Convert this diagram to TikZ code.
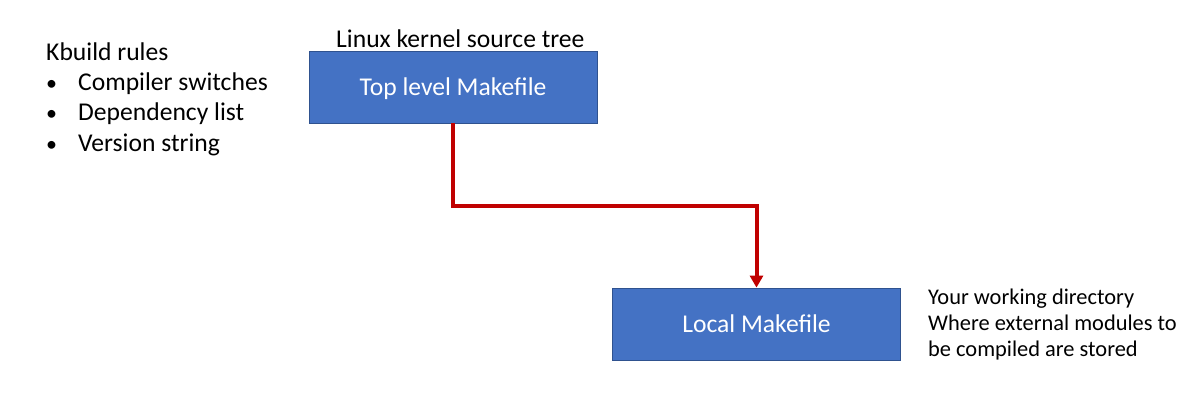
\documentclass[tikz,border=0pt]{standalone}
\usepackage{fontspec}
\setmainfont{Carlito}
\usetikzlibrary{arrows.meta}
\definecolor{boxfill}{HTML}{4472C4}
\definecolor{boxline}{HTML}{2F528F}
\definecolor{arrowred}{HTML}{C00000}
\begin{document}
\begin{tikzpicture}[x=1pt,y=-1pt,
  mbox/.style={draw=boxline,fill=boxfill,line width=0.8pt,minimum width=288pt,minimum height=72pt,inner sep=0pt,text depth=0pt,text=white,font=\fontsize{25.6}{30}\selectfont},
  lbl/.style={anchor=base west,inner sep=0pt,font=\fontsize{25.6}{30}\selectfont},
  rlbl/.style={anchor=base west,inner sep=0pt,font=\fontsize{22.4}{26}\selectfont},
  bul/.style={anchor=base west,inner sep=0pt,font=\fontsize{22}{26}\selectfont},
  conn/.style={draw=arrowred,line width=4pt,-{Triangle[length=12pt,width=13pt]}}]
\useasboundingbox (0,0) rectangle (1197,404);
\node[mbox] (top) at (453,87) {Top level Makefile};
\node[mbox] (loc) at (756.5,324) {Local Makefile};
\node[lbl] (tree) at (336,48) {Linux kernel source tree};
\node[lbl] (kb) at (46,61) {Kbuild rules};
\node[bul] (b1) at (46,91) {•};
\node[lbl] (i1) at (78,91) {Compiler switches};
\node[bul] (b2) at (46,121) {•};
\node[lbl] (i2) at (78,121) {Dependency list};
\node[bul] (b3) at (46,151.5) {•};
\node[lbl] (i3) at (78,151.5) {Version string};
\node[rlbl] (w1) at (928,304.5) {Your working directory};
\node[rlbl] (w2) at (928,330.5) {Where external modules to};
\node[rlbl] (w3) at (928,356.5) {be compiled are stored};
\coordinate (c1) at (453,206);
\coordinate (c2) at (756.5,206);
\draw[conn] (top.south) -- (c1) -- (c2) -- (loc.north);
\end{tikzpicture}
\end{document}
